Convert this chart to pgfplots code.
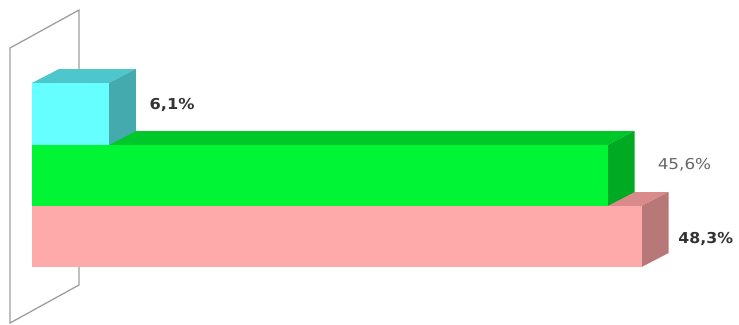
\documentclass[border=0pt]{standalone}
\usepackage{pgfplots}
\pgfplotsset{compat=1.18}
\usepackage{fontspec}
\setmainfont{DejaVu Sans}
\definecolor{cyanF}{HTML}{66FFFF}
\definecolor{cyanT}{HTML}{4DC6CC}
\definecolor{cyanS}{HTML}{44AAAE}
\definecolor{greenF}{HTML}{00F634}
\definecolor{greenT}{HTML}{00C72A}
\definecolor{greenS}{HTML}{00AA22}
\definecolor{pinkF}{HTML}{FFAAAA}
\definecolor{pinkT}{HTML}{D98A8A}
\definecolor{pinkS}{HTML}{B87878}
\begin{document}
\begin{tikzpicture}
\begin{axis}[
  scale only axis, width=739pt, height=324pt,
  hide axis, clip=false,
  xmin=-2.5357, xmax=56.02,
  ymin=0, ymax=324, y dir=reverse,
]
\path (rel axis cs:0,0) rectangle (rel axis cs:1,1);
% back wall
\addplot[draw=gray!75, line width=1.3pt, fill=white] coordinates {(-1.743,48) (3.724,10) (3.724,285) (-1.743,323)} -- cycle;
% pink bar 48.3
\addplot[draw=none, fill=pinkT] coordinates {(0,206) (48.3,206) (50.44,192) (2.14,192)} -- cycle;
\addplot[draw=none, fill=pinkS] coordinates {(48.3,206) (50.44,192) (50.44,253) (48.3,267)} -- cycle;
\addplot[draw=none, fill=pinkF] coordinates {(0,206) (48.3,206) (48.3,267) (0,267)} -- cycle;
% green bar 45.6
\addplot[draw=none, fill=greenT] coordinates {(0,145) (45.6,145) (47.74,131) (2.14,131)} -- cycle;
\addplot[draw=none, fill=greenS] coordinates {(45.6,145) (47.74,131) (47.74,192) (45.6,206)} -- cycle;
\addplot[draw=none, fill=greenF] coordinates {(0,145) (45.6,145) (45.6,206) (0,206)} -- cycle;
% cyan bar 6.1
\addplot[draw=none, fill=cyanT] coordinates {(0,83) (6.1,83) (8.24,69) (2.14,69)} -- cycle;
\addplot[draw=none, fill=cyanS] coordinates {(6.1,83) (8.24,69) (8.24,131) (6.1,145)} -- cycle;
\addplot[draw=none, fill=cyanF] coordinates {(0,83) (6.1,83) (6.1,145) (0,145)} -- cycle;
% labels
\node[font=\fontsize{15}{15}\selectfont\bfseries, text=black!80, xscale=1.08] at (axis cs:11.1,105) {6,1\%};
\node[font=\fontsize{15}{15}\selectfont, text=black!60, xscale=1.12] at (axis cs:51.70,165) {45,6\%};
\node[overlay, anchor=west, inner sep=0pt, font=\fontsize{15}{15}\selectfont\bfseries, text=black!80, xscale=1.05] at (axis cs:51.20,239) {48,3\%};
\end{axis}
\end{tikzpicture}
\end{document}
